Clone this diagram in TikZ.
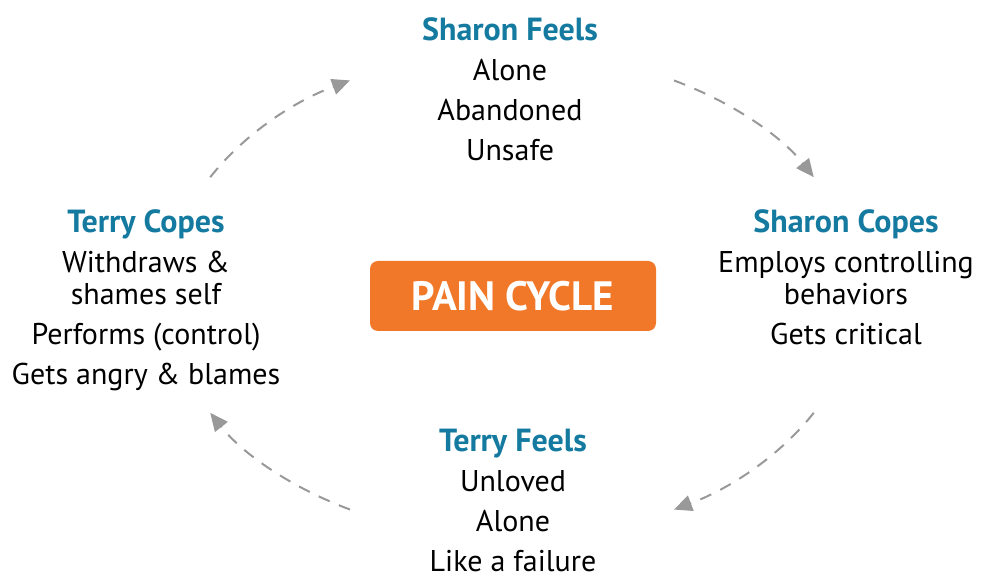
\documentclass[tikz,border=0pt]{standalone}
\usepackage{fontspec}
\setmainfont{PT Sans}
\usepackage{tikz}
\usetikzlibrary{arrows.meta}
\usetikzlibrary{calc}
\definecolor{headblue}{RGB}{20,122,160}
\definecolor{painorange}{RGB}{240,120,40}
\definecolor{arrowgray}{RGB}{153,153,153}
\tikzstyle{group}=[anchor=north,align=center,inner sep=0pt,text=black,font=\fontsize{15}{20}\selectfont]
\tikzstyle{pain}=[rectangle,rounded corners=4pt,fill=painorange,text=white,minimum width=143pt,minimum height=35pt,font=\fontsize{20.5}{22}\selectfont\bfseries]
\tikzstyle{cyclearrow}=[draw=arrowgray,line width=1pt,dash pattern=on 6pt off 5pt,-{Triangle[length=9pt,width=8pt,fill=arrowgray]}]
\newcommand{\heading}[1]{\textcolor{headblue}{\fontsize{16}{20}\selectfont\bfseries #1}}

\begin{document}
\begin{tikzpicture}[x=0.5pt,y=0.5pt]
\useasboundingbox (0,0) rectangle (982,578);
\node[pain] (pain) at (513,282) {PAIN CYCLE};
\node[group] (sfeels) at (510,561) {\heading{Sharon Feels}\\Alone\\Abandoned\\Unsafe};
\node[group] (scopes) at (846,369) {\heading{Sharon Copes}\\Employs controlling\\[-4pt]behaviors\\Gets critical};
\node[group] (tfeels) at (513,149) {\heading{Terry Feels}\\Unloved\\Alone\\Like a failure};
\node[group] (tcopes) at (146,369) {\heading{Terry Copes}\\Withdraws \&\\[-4pt]shames self\\Performs (control)\\Gets angry \& blames};
%Placementdesflèches
\coordinate (ctr) at (512,283);
\coordinate (tl) at ($(ctr)+(151:172.5pt and 121.5pt)$);
\coordinate (tr) at ($(ctr)+(62:172.5pt and 121.5pt)$);
\coordinate (br) at ($(ctr)+(-29:172.5pt and 121.5pt)$);
\coordinate (bl) at ($(ctr)+(-118:172.5pt and 121.5pt)$);
\draw[cyclearrow] (tl) arc[start angle=151,end angle=118,x radius=172.5pt,y radius=121.5pt];
\draw[cyclearrow] (tr) arc[start angle=62,end angle=29,x radius=172.5pt,y radius=121.5pt];
\draw[cyclearrow] (br) arc[start angle=-29,end angle=-62,x radius=172.5pt,y radius=121.5pt];
\draw[cyclearrow] (bl) arc[start angle=-118,end angle=-151,x radius=172.5pt,y radius=121.5pt];
\end{tikzpicture}
\end{document}
